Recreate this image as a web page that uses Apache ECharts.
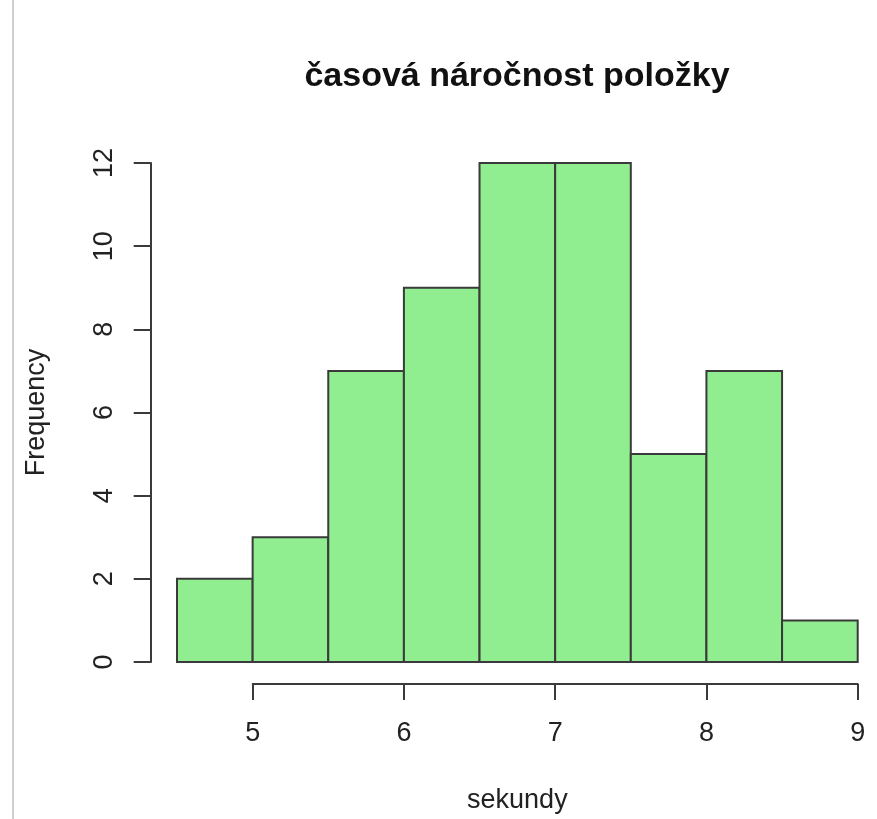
<!DOCTYPE html>
<html>
<head>
<meta charset="utf-8">
<script src="https://cdn.jsdelivr.net/npm/echarts@6/dist/echarts.min.js"></script>
<style>html,body{margin:0;padding:0;background:#fff;}#c{width:877px;height:819px;}</style>
</head>
<body>
<div id="c"></div>
<script>
const titleText = 'časová náročnost položky';
const xLabel = 'sekundy';
const yLabel = 'Frequency';
const binStarts = [4.5, 5.0, 5.5, 6.0, 6.5, 7.0, 7.5, 8.0, 8.5];
const binEnds   = [5.0, 5.5, 6.0, 6.5, 7.0, 7.5, 8.0, 8.5, 9.0];
const counts    = [2, 3, 7, 9, 12, 12, 5, 7, 1];
const xTicks = [5, 6, 7, 8, 9];
const yTicks = [0, 2, 4, 6, 8, 10, 12];

const FONT = '"Liberation Sans", Arial, sans-serif';
const INK = '#222';
const LINE = '#3a3a3a';

const chart = echarts.init(document.getElementById('c'), null, {renderer: 'canvas'});
const data = binStarts.map((s, i) => [s, binEnds[i], counts[i]]);

chart.setOption({
  animation: false,
  backgroundColor: '#fff',
  title: {
    text: titleText,
    left: 512, top: 55, textAlign: 'center',
    textStyle: {fontFamily: FONT, fontSize: 34, fontWeight: 'bold', color: '#111'}
  },
  graphic: [{
    type: 'line', shape: {x1: 13, y1: 0, x2: 13, y2: 819},
    style: {stroke: '#cfcfcf', lineWidth: 2}
  }],
  grid: [
    {left: 177, right: 19.3, top: 163, bottom: 155.7},
    {left: 252.7, right: 19.3, top: 163, bottom: 155.7}
  ],
  xAxis: [{
    type: 'value', gridIndex: 0, min: xTicks[0] - 0.5, max: xTicks[xTicks.length - 1],
    axisLine: {show: false}, axisTick: {show: false}, axisLabel: {show: false}, splitLine: {show: false},
    name: xLabel, nameLocation: 'middle', nameGap: 125,
    nameTextStyle: {fontFamily: FONT, fontSize: 27, color: INK}
  }, {
    type: 'value', gridIndex: 1, position: 'bottom', offset: 20.7,
    min: xTicks[0], max: xTicks[xTicks.length - 1], interval: 1,
    axisLine: {show: true, onZero: false, lineStyle: {color: LINE, width: 2}},
    axisTick: {show: true, length: 16, lineStyle: {color: LINE, width: 2}},
    axisLabel: {show: true, margin: 36, fontFamily: FONT, fontSize: 27, color: INK},
    splitLine: {show: false}
  }],
  yAxis: [{
    type: 'value', gridIndex: 0, min: yTicks[0], max: yTicks[yTicks.length - 1], interval: 2,
    offset: 26.3,
    axisLine: {show: true, onZero: false, lineStyle: {color: LINE, width: 2}},
    axisTick: {show: true, length: 17, lineStyle: {color: LINE, width: 2}},
    axisLabel: {show: true, rotate: 90, margin: 33, fontFamily: FONT, fontSize: 27, color: INK},
    splitLine: {show: false},
    name: yLabel, nameLocation: 'middle', nameGap: 101, nameRotate: 90,
    nameTextStyle: {fontFamily: FONT, fontSize: 27, color: INK}
  }, {
    type: 'value', gridIndex: 1, min: 0, max: 12, show: false
  }],
  series: [{
    type: 'custom',
    xAxisIndex: 0, yAxisIndex: 0,
    data: data,
    renderItem: function (params, api) {
      const p0 = api.coord([api.value(0), 0]);
      const p1 = api.coord([api.value(1), api.value(2)]);
      return {
        type: 'rect',
        shape: {x: p0[0], y: p1[1], width: p1[0] - p0[0], height: p0[1] - p1[1]},
        style: {fill: '#90EE90', stroke: LINE, lineWidth: 2}
      };
    },
    encode: {x: [0, 1], y: 2}
  }]
});
</script>
</body>
</html>
